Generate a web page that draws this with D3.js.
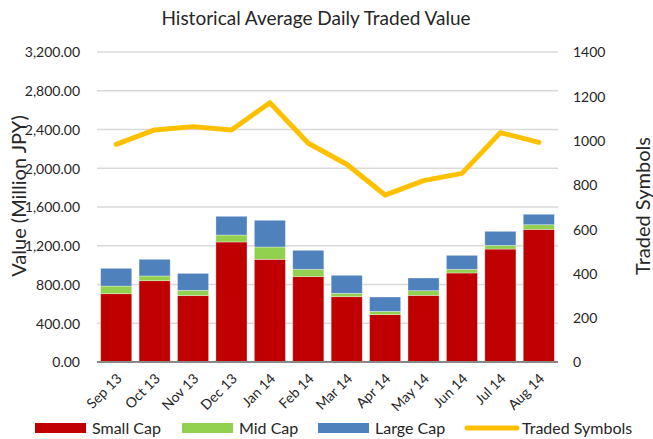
<!DOCTYPE html>
<html>
<head>
<meta charset="utf-8">
<script src="https://cdn.jsdelivr.net/npm/d3@7"></script>
<style>
  body { margin: 0; background: #fff; }
  text { font-family: Lato, "Open Sans", sans-serif; fill: #262626; }
</style>
</head>
<body>
<script>
var width = 653;
var height = 439;

var months = ['Sep 13', 'Oct 13', 'Nov 13', 'Dec 13', 'Jan 14', 'Feb 14',
              'Mar 14', 'Apr 14', 'May 14', 'Jun 14', 'Jul 14', 'Aug 14'];
var smallCap = [705, 839, 685, 1239, 1060, 881, 674, 489, 688, 919, 1166, 1369];
var midCap   = [79, 49, 55, 72, 127, 76, 35, 34, 48, 38, 38, 48];
var largeCap = [183, 172, 175, 193, 276, 196, 186, 148, 131, 144, 145, 108];
var tradedSymbols = [983, 1048, 1063, 1048, 1171, 988, 893, 754, 819, 852, 1036, 992];
var leftTicks = [0, 400, 800, 1200, 1600, 2000, 2400, 2800, 3200];
var rightTicks = [0, 200, 400, 600, 800, 1000, 1200, 1400];

var keys = ['small', 'mid', 'large'];
var colors = { small: '#C00000', mid: '#92D050', large: '#4F81BD' };
var lineColor = '#FFC000';

var plot = { left: 97, right: 558, top: 52, bottom: 362 };

var svg = d3.select('body')
    .append('svg')
    .attr('width', width)
    .attr('height', height);

var rows = months.map(function (m, i) {
    return { month: m, small: smallCap[i], mid: midCap[i], large: largeCap[i], sym: tradedSymbols[i] };
});

var xScale = d3.scaleBand()
    .domain(months)
    .range([plot.left, plot.right])
    .paddingInner(0.19)
    .paddingOuter(0.095);

var yScale = d3.scaleLinear()
    .domain([0, 3200])
    .range([plot.bottom, plot.top]);

var y2Scale = d3.scaleLinear()
    .domain([0, 1400])
    .range([plot.bottom, plot.top]);

// gridlines
svg.append('g')
    .selectAll('line')
    .data(leftTicks.slice(1))
    .enter()
    .append('line')
    .attr('x1', plot.left)
    .attr('x2', plot.right)
    .attr('y1', function (d) { return yScale(d); })
    .attr('y2', function (d) { return yScale(d); })
    .attr('stroke', '#D9D9D9')
    .attr('stroke-width', 1.5);

// left axis
var leftAxis = svg.append('g')
    .attr('transform', 'translate(' + (plot.left - 14) + ',0)')
    .call(d3.axisLeft(yScale).tickValues(leftTicks).tickSize(0).tickFormat(d3.format(',.2f')));
leftAxis.select('.domain').remove();
leftAxis.selectAll('text').style('font-size', '14px').attr('dy', '0.35em');

// right axis
var rightAxis = svg.append('g')
    .attr('transform', 'translate(' + (plot.right + 15) + ',0)')
    .call(d3.axisRight(y2Scale).tickValues(rightTicks).tickSize(0).tickFormat(d3.format('d')));
rightAxis.select('.domain').remove();
rightAxis.selectAll('text').style('font-size', '14px').attr('dy', '0.35em').attr('x', 0);

// stacked bars
var stacked = d3.stack().keys(keys)(rows);

svg.append('g')
    .selectAll('g')
    .data(stacked)
    .enter()
    .append('g')
    .attr('fill', function (d) { return colors[d.key]; })
    .selectAll('rect')
    .data(function (d) { return d; })
    .enter()
    .append('rect')
    .attr('x', function (d) { return xScale(d.data.month); })
    .attr('y', function (d) { return yScale(d[1]); })
    .attr('width', xScale.bandwidth())
    .attr('height', function (d) { return yScale(d[0]) - yScale(d[1]); })
    .attr('stroke', 'rgba(255,255,255,0.45)')
    .attr('stroke-width', 0.75);

// baseline
svg.append('line')
    .attr('x1', plot.left)
    .attr('x2', plot.right)
    .attr('y1', yScale(0))
    .attr('y2', yScale(0))
    .attr('stroke', '#888888')
    .attr('stroke-width', 2);

// line
var line = d3.line()
    .x(function (d) { return xScale(d.month) + xScale.bandwidth() / 2; })
    .y(function (d) { return y2Scale(d.sym); });

svg.append('path')
    .datum(rows)
    .attr('d', line)
    .attr('fill', 'none')
    .attr('stroke', lineColor)
    .attr('stroke-width', 5)
    .attr('stroke-linejoin', 'round')
    .attr('stroke-linecap', 'round');

// x labels
svg.append('g')
    .selectAll('text')
    .data(months)
    .enter()
    .append('text')
    .attr('transform', function (d) {
        return 'translate(' + (xScale(d) + xScale.bandwidth() / 2 + 3) + ',' + (plot.bottom + 14) + ') rotate(-45)';
    })
    .attr('text-anchor', 'end')
    .attr('dy', '0.35em')
    .style('font-size', '14px')
    .text(function (d) { return d; });

// title
svg.append('text')
    .attr('x', 316)
    .attr('y', 25)
    .attr('text-anchor', 'middle')
    .style('font-size', '19px')
    .text('Historical Average Daily Traded Value');

// axis titles
svg.append('text')
    .attr('transform', 'translate(26,196) rotate(-90)')
    .attr('text-anchor', 'middle')
    .style('font-size', '20px')
    .text('Value (Million JPY)');

svg.append('text')
    .attr('transform', 'translate(650,206) rotate(-90)')
    .attr('text-anchor', 'middle')
    .style('font-size', '20px')
    .text('Traded Symbols');

// legend
var legendItems = [
    { label: 'Small Cap', color: colors.small, x: 35, type: 'rect' },
    { label: 'Mid Cap', color: colors.mid, x: 182, type: 'rect' },
    { label: 'Large Cap', color: colors.large, x: 318, type: 'rect' },
    { label: 'Traded Symbols', color: lineColor, x: 465, type: 'line' }
];

var legend = svg.append('g')
    .selectAll('g')
    .data(legendItems)
    .enter()
    .append('g')
    .attr('transform', function (d) { return 'translate(' + d.x + ',428)'; });

legend.filter(function (d) { return d.type === 'rect'; })
    .append('rect')
    .attr('x', 0)
    .attr('y', -5)
    .attr('width', 51)
    .attr('height', 10)
    .attr('fill', function (d) { return d.color; });

legend.filter(function (d) { return d.type === 'line'; })
    .append('line')
    .attr('x1', 2)
    .attr('x2', 52)
    .attr('stroke', function (d) { return d.color; })
    .attr('stroke-width', 5)
    .attr('stroke-linecap', 'round');

legend.append('text')
    .attr('x', 57)
    .attr('dy', '0.35em')
    .style('font-size', '16px')
    .text(function (d) { return d.label; });
</script>
</body>
</html>
